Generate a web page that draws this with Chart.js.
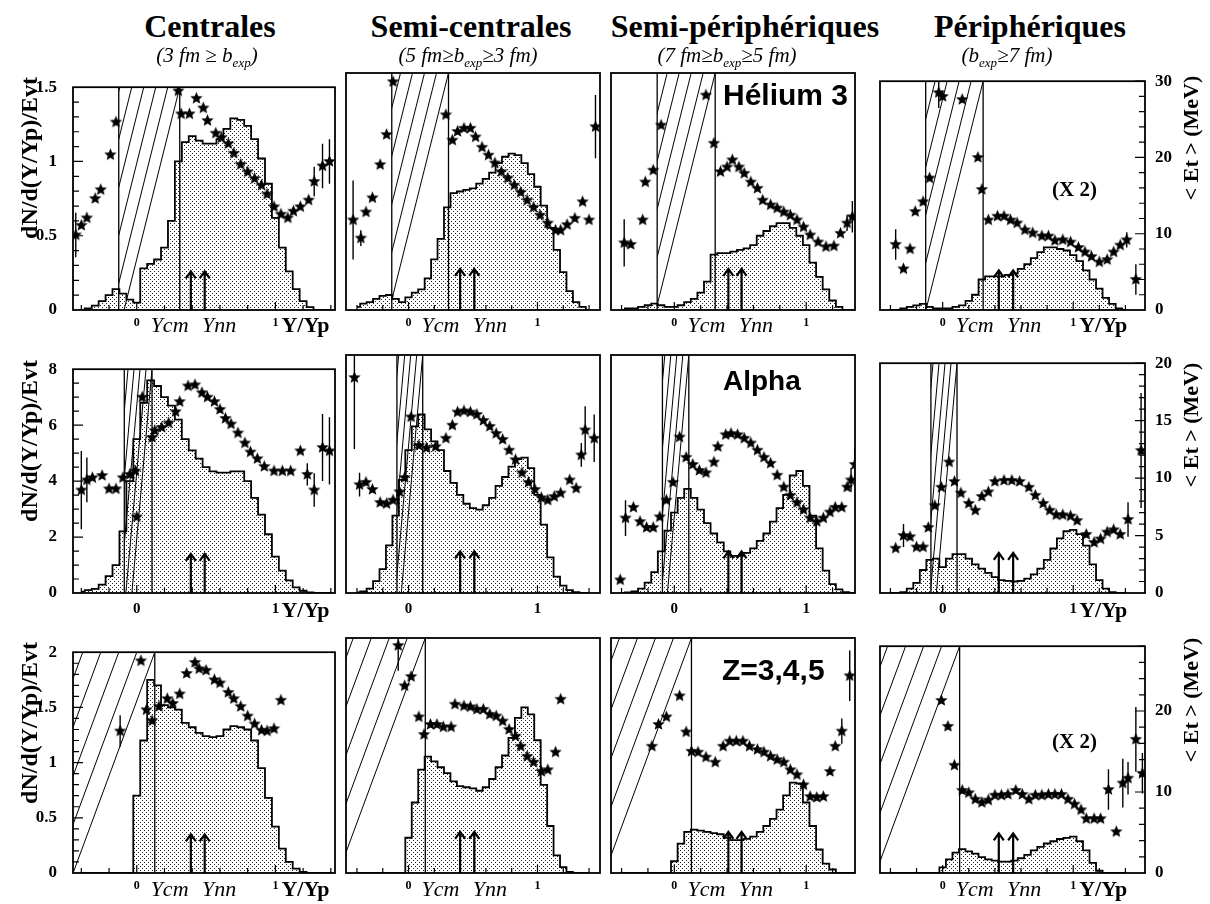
<!DOCTYPE html>
<html lang="fr">
<head>
<meta charset="utf-8">
<title>dN/d(Y/Yp) et &lt;Et&gt; par tranche de paramètre d'impact</title>
<script src="https://cdn.jsdelivr.net/npm/chart.js@4.4.1/dist/chart.umd.min.js"></script>
<style>
  html, body { margin: 0; padding: 0; background: #fff; }
  #fig { position: relative; width: 1210px; height: 904px; overflow: hidden;
         font-family: "Liberation Serif", "Times New Roman", serif; color: #000; }
  #fig canvas { position: absolute; }
  .txt { position: absolute; white-space: nowrap; line-height: 1; }
  .coltitle { font-weight: bold; font-size: 32px; width: 340px; text-align: center; }
  .colsub { font-style: italic; font-size: 21px; width: 340px; text-align: center; }
  .colsub sub { font-size: 13px; vertical-align: -5px; line-height: 0; }
  .species { font-family: "Liberation Sans", Arial, sans-serif; font-weight: bold; }
  .factor { font-weight: bold; font-size: 21px; }
  .rot { font-weight: bold; transform: translate(-50%, -50%) rotate(-90deg); }
  .ylab { font-size: 24px; }
  .etlab { font-size: 22px; }
  .xmid { font-style: italic; font-size: 22px; word-spacing: 8px; }
  .xend { font-weight: bold; font-size: 22px; }
</style>
</head>
<body>
<div id="fig"></div>
<script>
// rapidity grid (Y/Yp) shared by all histograms
const X_GRID = [-0.4, -0.35, -0.3, -0.25, -0.2, -0.15, -0.1, -0.05, 0, 0.05, 0.1, 0.15,
  0.2, 0.25, 0.3, 0.35, 0.4, 0.45, 0.5, 0.55, 0.6, 0.65, 0.7, 0.75, 0.8, 0.85, 0.9, 0.95,
  1, 1.05, 1.1, 1.15, 1.2, 1.25, 1.3, 1.35, 1.4];

// dN/d(Y/Yp)/Evt histograms
const HIST_HE3_C = [0, 0.01, 0.03, 0.06, 0.10, 0.14, 0.11, 0.07, 0.05, 0.28, 0.31, 0.34, 0.42, 0.60, 1.00, 1.13, 1.17, 1.14, 1.12, 1.12, 1.15, 1.22, 1.29, 1.28, 1.24, 1.15, 1.02, 0.85, 0.62, 0.42, 0.26, 0.14, 0.06, 0.02, 0, 0, 0];
const HIST_HE3_SC = [0.02, 0.04, 0.05, 0.07, 0.09, 0.095, 0.07, 0.05, 0.08, 0.11, 0.13, 0.20, 0.32, 0.45, 0.65, 0.74, 0.75, 0.76, 0.77, 0.80, 0.83, 0.87, 0.93, 0.97, 0.99, 0.98, 0.93, 0.86, 0.78, 0.66, 0.52, 0.38, 0.24, 0.12, 0.05, 0.02, 0];
const HIST_HE3_SP = [0, 0.01, 0.01, 0.02, 0.03, 0.04, 0.03, 0.02, 0.02, 0.03, 0.05, 0.07, 0.11, 0.18, 0.35, 0.36, 0.36, 0.37, 0.38, 0.39, 0.41, 0.47, 0.50, 0.53, 0.55, 0.55, 0.52, 0.47, 0.41, 0.30, 0.21, 0.13, 0.06, 0.02, 0, 0, 0];
const HIST_HE3_P = [0, 0, 0.01, 0.02, 0.03, 0.04, 0.02, 0.01, 0.01, 0.01, 0.02, 0.03, 0.06, 0.10, 0.20, 0.22, 0.22, 0.22, 0.23, 0.24, 0.27, 0.30, 0.34, 0.38, 0.41, 0.41, 0.40, 0.39, 0.36, 0.32, 0.26, 0.20, 0.14, 0.08, 0.04, 0.01, 0];
const HIST_ALPHA_C = [0.05, 0.10, 0.15, 0.30, 0.60, 1.00, 2.20, 4.00, 5.50, 6.80, 7.60, 7.40, 7.00, 6.70, 6.20, 5.50, 5.10, 4.80, 4.50, 4.35, 4.30, 4.30, 4.35, 4.35, 4.00, 3.40, 2.80, 2.10, 1.30, 0.80, 0.45, 0.20, 0.08, 0.02, 0, 0, 0];
const HIST_ALPHA_SC = [0.02, 0.05, 0.15, 0.40, 0.80, 1.60, 2.60, 3.80, 4.80, 5.60, 6.00, 5.50, 5.10, 4.80, 4.10, 3.70, 3.30, 3.00, 2.85, 2.80, 2.95, 3.20, 3.60, 3.90, 4.25, 4.50, 4.55, 4.20, 3.30, 2.30, 1.20, 0.55, 0.25, 0.10, 0.03, 0, 0];
const HIST_ALPHA_SP = [0, 0.02, 0.05, 0.15, 0.35, 0.70, 1.40, 2.10, 2.70, 3.20, 3.50, 3.20, 2.80, 2.35, 2.00, 1.70, 1.40, 1.25, 1.25, 1.35, 1.50, 1.75, 2.00, 2.40, 2.85, 3.30, 3.95, 4.10, 3.60, 2.60, 1.50, 0.75, 0.30, 0.12, 0.03, 0, 0];
const HIST_ALPHA_P = [0, 0, 0.03, 0.15, 0.35, 0.80, 1.15, 1.20, 0.90, 1.20, 1.35, 1.35, 1.20, 1.00, 0.85, 0.70, 0.55, 0.45, 0.42, 0.40, 0.42, 0.50, 0.65, 0.85, 1.15, 1.55, 1.90, 2.15, 2.20, 2.05, 1.65, 1.00, 0.45, 0.15, 0.03, 0, 0];
const HIST_Z345_C = [0, 0, 0, 0, 0, 0, 0, 0, 0.70, 1.20, 1.75, 1.70, 1.52, 1.50, 1.48, 1.36, 1.32, 1.27, 1.24, 1.23, 1.24, 1.30, 1.33, 1.32, 1.30, 1.20, 0.95, 0.68, 0.42, 0.22, 0.10, 0.04, 0.01, 0, 0, 0, 0];
const HIST_Z345_SC = [0, 0, 0, 0, 0, 0, 0, 0, 0.30, 0.60, 0.88, 0.99, 0.95, 0.90, 0.85, 0.78, 0.74, 0.73, 0.72, 0.70, 0.73, 0.80, 0.90, 1.00, 1.15, 1.32, 1.41, 1.35, 1.13, 0.75, 0.40, 0.15, 0.05, 0.01, 0, 0, 0];
const HIST_Z345_SP = [0, 0, 0, 0, 0, 0, 0, 0, 0.10, 0.25, 0.35, 0.37, 0.36, 0.35, 0.34, 0.33, 0.30, 0.28, 0.28, 0.29, 0.31, 0.35, 0.40, 0.46, 0.54, 0.66, 0.77, 0.76, 0.60, 0.40, 0.20, 0.08, 0.03, 0, 0, 0, 0];
const HIST_Z345_P = [0, 0, 0, 0, 0, 0, 0, 0, 0.05, 0.12, 0.18, 0.21, 0.19, 0.17, 0.14, 0.12, 0.11, 0.10, 0.10, 0.11, 0.13, 0.16, 0.20, 0.23, 0.26, 0.28, 0.30, 0.31, 0.32, 0.28, 0.20, 0.09, 0.02, 0, 0, 0, 0];

// <Et> (MeV) stars: [Y/Yp, Et, error]
const STARS_HE3_C = [[-0.44, 10.1, 3], [-0.40, 11.4, 0], [-0.36, 12.4, 0], [-0.30, 15.0, 0], [-0.26, 16.2, 0], [-0.19, 20.9, 0], [-0.15, 25.3, 0], [0.30, 29.5, 0], [0.32, 26.4, 0], [0.38, 26.4, 0], [0.43, 28.5, 0], [0.48, 27.2, 0], [0.51, 25.5, 0], [0.57, 23.8, 0], [0.61, 23.2, 0], [0.66, 22.4, 0], [0.70, 21.1, 0], [0.75, 19.6, 0], [0.80, 18.6, 0], [0.85, 17.7, 0], [0.90, 16.8, 0], [0.94, 15.6, 0], [0.99, 13.9, 0], [1.04, 12.9, 0], [1.09, 12.4, 0], [1.13, 13.3, 0], [1.18, 13.9, 0], [1.24, 14.8, 0], [1.28, 17.3, 2], [1.34, 19.4, 3], [1.39, 20.0, 3]];
const STARS_HE3_SC = [[-0.43, 11.4, 5], [-0.37, 9.1, 1], [-0.33, 12.4, 0], [-0.28, 14.2, 0], [-0.22, 18.4, 0], [-0.17, 22.2, 0], [-0.12, 28.9, 0], [0.29, 24.7, 0], [0.34, 21.5, 0], [0.38, 22.6, 0], [0.43, 23.0, 0], [0.48, 23.0, 0], [0.52, 21.9, 0], [0.57, 20.6, 0], [0.62, 19.6, 0], [0.67, 18.6, 0], [0.72, 17.5, 0], [0.77, 16.7, 0], [0.82, 15.8, 0], [0.87, 14.9, 0], [0.92, 13.9, 0], [0.97, 13.0, 0], [1.02, 12.0, 0], [1.08, 11.0, 0], [1.14, 10.1, 0], [1.18, 10.1, 0], [1.23, 10.8, 0], [1.29, 11.6, 0], [1.35, 13.7, 0], [1.40, 11.4, 0], [1.45, 23.2, 4]];
const STARS_HE3_SP = [[-0.38, 8.5, 3], [-0.33, 8.3, 0], [-0.24, 11.4, 0], [-0.22, 16.2, 0], [-0.16, 17.7, 0], [-0.10, 23.4, 0], [0.24, 27.2, 0], [0.30, 21.1, 0], [0.35, 17.5, 0], [0.40, 18.1, 0], [0.44, 19.0, 0], [0.49, 18.1, 0], [0.53, 17.3, 0], [0.58, 16.2, 0], [0.63, 15.4, 0], [0.67, 13.9, 0], [0.73, 13.3, 0], [0.78, 12.9, 0], [0.83, 12.4, 0], [0.88, 12.0, 0], [0.93, 11.4, 0], [0.98, 10.5, 0], [1.03, 9.5, 0], [1.09, 8.6, 0], [1.15, 8.0, 0], [1.21, 8.1, 0], [1.26, 9.7, 0], [1.31, 11.0, 1], [1.35, 11.8, 2]];
const STARS_HE3_P = [[-0.36, 8.6, 2], [-0.30, 5.4, 0], [-0.25, 8.0, 0], [-0.21, 12.9, 0], [-0.15, 14.2, 0], [-0.10, 17.3, 0], [-0.03, 28.5, 2], [0.00, 28.0, 0], [0.15, 27.6, 0], [0.27, 20.0, 0], [0.30, 15.8, 0], [0.35, 11.8, 0], [0.42, 12.3, 0], [0.47, 12.3, 0], [0.52, 11.8, 0], [0.57, 11.4, 0], [0.63, 10.5, 0], [0.69, 10.1, 0], [0.76, 9.7, 0], [0.81, 9.7, 0], [0.86, 9.1, 0], [0.92, 9.2, 0], [0.98, 8.9, 0], [1.04, 8.2, 0], [1.09, 7.6, 0], [1.14, 7.0, 0], [1.20, 6.3, 0], [1.26, 6.6, 0], [1.31, 7.6, 0], [1.36, 8.5, 0], [1.41, 9.2, 1], [1.48, 4.0, 2]];
const STARS_ALPHA_C = [[-0.40, 9.2, 3.5], [-0.36, 10.1, 2], [-0.32, 10.3, 0], [-0.25, 10.5, 0], [-0.20, 9.3, 0], [-0.15, 9.3, 0], [-0.10, 10.3, 0], [-0.05, 10.6, 0], [-0.01, 10.9, 0], [0.00, 6.8, 0], [0.04, 17.5, 0], [0.11, 13.9, 0], [0.13, 14.5, 0], [0.18, 14.8, 0], [0.23, 15.2, 0], [0.28, 16.2, 0], [0.31, 17.1, 0], [0.37, 18.5, 0], [0.42, 18.6, 0], [0.47, 17.9, 0], [0.51, 17.5, 0], [0.56, 17.1, 0], [0.60, 16.4, 0], [0.64, 15.6, 0], [0.68, 15.1, 0], [0.73, 14.3, 0], [0.78, 13.4, 0], [0.82, 12.6, 0], [0.87, 12.0, 0], [0.92, 11.3, 0], [0.99, 10.9, 0], [1.05, 10.9, 0], [1.11, 10.9, 0], [1.18, 12.7, 0], [1.23, 10.6, 1], [1.28, 9.2, 1.5], [1.34, 13.0, 3], [1.39, 12.7, 3]];
const STARS_ALPHA_SC = [[-0.42, 18.1, 6], [-0.38, 9.1, 1], [-0.33, 9.3, 0], [-0.28, 8.7, 0], [-0.22, 7.6, 0], [-0.17, 7.5, 0], [-0.12, 7.8, 0], [-0.07, 8.5, 0], [-0.03, 9.7, 0], [0.02, 14.8, 0], [0.08, 12.4, 0], [0.14, 12.2, 0], [0.21, 12.3, 0], [0.29, 13.0, 0], [0.34, 14.1, 0], [0.38, 15.2, 0], [0.43, 15.3, 0], [0.48, 15.2, 0], [0.53, 15.0, 0], [0.58, 14.5, 0], [0.63, 14.0, 0], [0.68, 13.4, 0], [0.73, 12.9, 0], [0.78, 12.0, 0], [0.83, 11.2, 0], [0.88, 10.1, 0], [0.93, 9.3, 0], [0.98, 8.7, 0], [1.03, 8.0, 0], [1.08, 7.8, 0], [1.13, 8.1, 0], [1.18, 8.4, 0], [1.25, 9.5, 0], [1.30, 8.8, 0], [1.34, 11.6, 1], [1.37, 13.7, 2], [1.44, 13.0, 2]];
const STARS_ALPHA_SP = [[-0.41, 1.1, 0], [-0.37, 6.3, 1.5], [-0.31, 7.2, 0], [-0.26, 6.0, 0], [-0.21, 5.5, 0], [-0.16, 5.5, 0], [-0.11, 6.4, 0], [-0.06, 7.8, 0], [-0.01, 9.3, 0], [0.04, 13.1, 0], [0.09, 11.4, 0], [0.14, 10.8, 0], [0.19, 10.3, 0], [0.24, 10.1, 0], [0.30, 11.0, 0], [0.33, 12.3, 0], [0.39, 13.3, 0], [0.43, 13.4, 0], [0.48, 13.3, 0], [0.53, 13.0, 0], [0.58, 12.6, 0], [0.63, 12.0, 0], [0.68, 11.4, 0], [0.73, 10.9, 0], [0.78, 9.9, 0], [0.83, 8.9, 0], [0.88, 8.2, 0], [0.93, 7.6, 0], [0.98, 7.0, 0], [1.03, 6.3, 0], [1.08, 6.0, 0], [1.13, 6.3, 0], [1.18, 6.8, 0], [1.22, 7.2, 0], [1.27, 7.2, 0], [1.31, 8.9, 0], [1.34, 9.5, 1], [1.37, 10.8, 1.5]];
const STARS_ALPHA_P = [[-0.36, 3.9, 0], [-0.30, 5.0, 1], [-0.25, 4.9, 0], [-0.20, 4.0, 0], [-0.15, 4.0, 0], [-0.11, 5.7, 0], [-0.06, 7.6, 0], [-0.01, 9.2, 0], [0.05, 11.4, 0], [0.09, 9.7, 0], [0.14, 8.7, 0], [0.20, 7.8, 0], [0.25, 7.2, 0], [0.30, 8.4, 0], [0.35, 8.8, 0], [0.40, 9.7, 0], [0.47, 9.8, 0], [0.53, 9.8, 0], [0.59, 9.7, 0], [0.66, 9.2, 0], [0.71, 8.5, 0], [0.77, 7.8, 0], [0.82, 7.2, 0], [0.87, 6.8, 0], [0.92, 6.8, 0], [0.98, 6.7, 0], [1.03, 6.3, 0], [1.10, 5.1, 0], [1.16, 4.4, 0], [1.21, 4.7, 0], [1.26, 5.3, 0], [1.31, 5.5, 0], [1.36, 5.1, 0], [1.42, 6.4, 1.5], [1.52, 12.4, 5]];
const STARS_Z345_C = [[-0.12, 18.0, 2], [0.03, 26.9, 0], [0.07, 20.7, 0], [0.11, 19.3, 0], [0.16, 21.1, 0], [0.22, 22.1, 0], [0.26, 21.5, 0], [0.31, 22.7, 0], [0.36, 25.3, 0], [0.42, 26.7, 0], [0.45, 25.9, 0], [0.50, 25.7, 0], [0.56, 24.5, 0], [0.60, 24.1, 0], [0.66, 22.9, 0], [0.70, 22.1, 0], [0.75, 21.1, 0], [0.80, 19.9, 0], [0.85, 18.9, 0], [0.90, 18.1, 0], [0.94, 18.0, 0], [0.99, 18.3, 0], [1.04, 21.9, 0]];
const STARS_Z345_SC = [[-0.08, 27.1, 3], [-0.03, 22.3, 0], [0.02, 23.4, 0], [0.08, 18.6, 0], [0.12, 16.5, 0], [0.17, 17.7, 0], [0.22, 17.7, 0], [0.27, 17.4, 0], [0.33, 17.4, 0], [0.36, 20.1, 0], [0.43, 19.9, 0], [0.48, 19.8, 0], [0.53, 19.5, 0], [0.58, 19.5, 0], [0.63, 18.9, 0], [0.68, 18.7, 0], [0.73, 18.1, 0], [0.78, 17.1, 0], [0.83, 16.3, 0], [0.87, 15.1, 0], [0.92, 13.9, 0], [0.97, 13.2, 0], [1.03, 12.1, 0], [1.08, 12.3, 0], [1.14, 14.4, 0], [1.18, 20.7, 0]];
const STARS_Z345_SP = [[-0.17, 15.1, 0], [-0.12, 17.7, 0], [-0.06, 18.6, 0], [0.04, 21.1, 0], [0.09, 16.8, 0], [0.13, 14.5, 0], [0.18, 14.4, 0], [0.24, 13.8, 0], [0.31, 13.2, 0], [0.37, 15.1, 0], [0.42, 15.7, 0], [0.47, 15.7, 0], [0.52, 15.7, 0], [0.57, 15.1, 0], [0.63, 14.7, 0], [0.68, 14.4, 0], [0.73, 13.9, 0], [0.78, 13.5, 0], [0.83, 13.2, 0], [0.88, 12.3, 0], [0.93, 11.7, 0], [0.98, 10.5, 0], [1.03, 9.1, 0], [1.08, 9.0, 0], [1.13, 9.1, 0], [1.18, 12.1, 0], [1.22, 15.1, 0], [1.27, 16.9, 1.5], [1.33, 23.5, 3]];
const STARS_Z345_P = [[-0.01, 21.3, 0], [0.04, 18.1, 0], [0.09, 13.3, 0], [0.15, 10.2, 0], [0.20, 9.9, 0], [0.25, 9.1, 0], [0.30, 8.7, 0], [0.35, 9.0, 0], [0.40, 9.6, 0], [0.45, 9.6, 0], [0.50, 9.7, 0], [0.56, 10.2, 0], [0.61, 9.7, 0], [0.66, 9.1, 0], [0.71, 9.6, 0], [0.76, 9.6, 0], [0.81, 9.7, 0], [0.86, 9.7, 0], [0.91, 9.7, 0], [0.96, 9.1, 0], [1.01, 8.5, 0], [1.06, 7.8, 0], [1.10, 6.7, 0], [1.16, 6.7, 0], [1.21, 6.7, 0], [1.27, 10.3, 2.5], [1.33, 5.1, 0], [1.38, 11.1, 3], [1.42, 11.7, 2], [1.48, 16.5, 4], [1.53, 12.3, 2.5]];

// labels and axes
const COL_TITLES = ["Centrales", "Semi-centrales", "Semi-périphériques", "Périphériques"];
const COL_SUBTITLES = ["(3 fm ≥ b<sub>exp</sub>)", "(5 fm≥b<sub>exp</sub>≥3 fm)", "(7 fm≥b<sub>exp</sub>≥5 fm)", "(b<sub>exp</sub>≥7 fm)"];
const SPECIES = ["Hélium 3", "Alpha", "Z=3,4,5"];
const FACTOR = ["(X 2)", "", "(X 2)"];
const Y_MAX = [1.5, 8, 2];
const Y_TICKS = [[0, 0.5, 1, 1.5], [0, 2, 4, 6, 8], [0, 0.5, 1, 1.5, 2]];
const Y_MINOR = [0.1, 0.5, 0.1];
const ET_MAX = [30, 20, 28];
const ET_TICKS = [[0, 10, 20, 30], [0, 5, 10, 15, 20], [0, 10, 20]];
const ET_MINOR = [2, 1, 2];
const X_TICKS = [0, 1];
const X_MID_LABEL = ["Ycm Ynn", "", "Ycm Ynn"];
const X_END_LABEL = ["Y/Yp", "", "", "Y/Yp"];
const Y_CM = [0.39, 0.40, 0.41, 0.43];
const Y_NN = [0.49, 0.51, 0.51, 0.54];
const ARROW_TOP = [0.26, 1.4, 0.35];
const HATCH_LEFT = [-0.13, -0.09, null];
const HATCH_RIGHT = [0.31, 0.11, 0.13];

const HISTS = [
  [HIST_HE3_C, HIST_HE3_SC, HIST_HE3_SP, HIST_HE3_P],
  [HIST_ALPHA_C, HIST_ALPHA_SC, HIST_ALPHA_SP, HIST_ALPHA_P],
  [HIST_Z345_C, HIST_Z345_SC, HIST_Z345_SP, HIST_Z345_P],
];
const STARS = [
  [STARS_HE3_C, STARS_HE3_SC, STARS_HE3_SP, STARS_HE3_P],
  [STARS_ALPHA_C, STARS_ALPHA_SC, STARS_ALPHA_SP, STARS_ALPHA_P],
  [STARS_Z345_C, STARS_Z345_SC, STARS_Z345_SP, STARS_Z345_P],
];

// layout (pixels) and per-column rapidity range
const COL_LEFT = [73, 343, 608, 877];
const COL_RIGHT = [338, 603, 858, 1145];
const ROW_TOP = [73, 355, 638];
const ROW_BOTTOM = [310, 593, 873];
const X_MIN = [-0.46, -0.485, -0.48, -0.48];
const X_MAX = [1.43, 1.485, 1.37, 1.55];
const HATCH_SLANT = [0.25, 0.09, 0.37];
const HATCH_GAP = [12, 6, 18];
const TICK_FONT = [12, 15, 12];
const XLABEL_TOP = [314, 599, 878];

const SERIF = '"Liberation Serif", "Times New Roman", serif';
const fig = document.getElementById("fig");

function addText(cls, html, left, top, extra) {
  const d = document.createElement("div");
  d.className = "txt " + cls;
  d.innerHTML = html;
  d.style.left = left + "px";
  d.style.top = top + "px";
  if (extra) Object.assign(d.style, extra);
  fig.appendChild(d);
  return d;
}

function makeStar(r) {
  const s = document.createElement("canvas");
  const size = Math.ceil(r * 2 + 2);
  s.width = s.height = size;
  const g = s.getContext("2d");
  g.fillStyle = "#000";
  g.beginPath();
  for (let i = 0; i < 10; i++) {
    const rad = i % 2 ? r * 0.45 : r;
    const a = -Math.PI / 2 + (i * Math.PI) / 5;
    g.lineTo(size / 2 + rad * Math.cos(a), size / 2 + rad * Math.sin(a));
  }
  g.closePath();
  g.fill();
  return s;
}
const STAR_IMG = makeStar(6.5);

function dotPattern(ctx) {
  const t = document.createElement("canvas");
  t.width = t.height = 4;
  const g = t.getContext("2d");
  g.fillStyle = "#fff";
  g.fillRect(0, 0, 4, 4);
  g.fillStyle = "#222";
  g.fillRect(0, 0, 1, 1);
  g.fillRect(2, 2, 1, 1);
  return ctx.createPattern(t, "repeat");
}

// hatched acceptance band, Ycm/Ynn arrows, error bars, frame + inner ticks
const decor = {
  id: "decor",
  afterDatasetDraw(chart, args, o) {
    if (args.index !== 0) return;
    const { ctx, chartArea: a, scales } = chart;
    const x = scales.x, y = scales.y;
    const xl = HATCH_LEFT[o.row] === null ? a.left : x.getPixelForValue(HATCH_LEFT[o.row]);
    const xr = x.getPixelForValue(HATCH_RIGHT[o.row]);
    const h = a.bottom - a.top;
    const dx = HATCH_SLANT[o.row] * h;
    ctx.save();
    ctx.beginPath();
    ctx.rect(xl, a.top, xr - xl, h);
    ctx.clip();
    ctx.strokeStyle = "#000";
    ctx.lineWidth = 1;
    ctx.beginPath();
    for (let s = xr; s > xl - dx; s -= HATCH_GAP[o.row]) {
      ctx.moveTo(s - dx, a.bottom);
      ctx.lineTo(s, a.top);
    }
    ctx.stroke();
    ctx.restore();

    ctx.save();
    ctx.strokeStyle = "#000";
    ctx.lineWidth = 1.3;
    ctx.beginPath();
    if (HATCH_LEFT[o.row] !== null) {
      ctx.moveTo(xl, a.top);
      ctx.lineTo(xl, a.bottom);
    }
    ctx.moveTo(xr, a.top);
    ctx.lineTo(xr, a.bottom);
    ctx.stroke();

    // Ycm / Ynn arrows
    ctx.lineWidth = 2.2;
    const yb = y.getPixelForValue(0);
    const yt = y.getPixelForValue(ARROW_TOP[o.row]);
    [Y_CM[o.col], Y_NN[o.col]].forEach((v) => {
      const px = x.getPixelForValue(v);
      ctx.beginPath();
      ctx.moveTo(px, yb);
      ctx.lineTo(px, yt);
      ctx.moveTo(px - 5, yt + 7);
      ctx.lineTo(px, yt);
      ctx.lineTo(px + 5, yt + 7);
      ctx.stroke();
    });
    ctx.restore();
  },
  afterDatasetsDraw(chart, args, o) {
    const { ctx, chartArea: a, scales } = chart;
    const x = scales.x, y2 = scales.y2;
    ctx.save();
    ctx.beginPath();
    ctx.rect(a.left, a.top, a.right - a.left, a.bottom - a.top);
    ctx.clip();
    ctx.strokeStyle = "#000";
    ctx.lineWidth = 1.4;
    ctx.beginPath();
    STARS[o.row][o.col].forEach(([sx, sy, e]) => {
      if (!e) return;
      const px = x.getPixelForValue(sx);
      ctx.moveTo(px, y2.getPixelForValue(sy - e));
      ctx.lineTo(px, y2.getPixelForValue(sy + e));
    });
    ctx.stroke();
    ctx.restore();
  },
  afterDraw(chart, args, o) {
    const { ctx, chartArea: a, scales } = chart;
    const x = scales.x, y = scales.y, y2 = scales.y2;
    ctx.save();
    ctx.strokeStyle = "#000";
    ctx.lineWidth = 1.2;
    ctx.beginPath();
    for (let k = Math.ceil(X_MIN[o.col] * 5); k <= Math.floor(X_MAX[o.col] * 5); k++) {
      const px = x.getPixelForValue(k / 5);
      const len = k % 5 === 0 ? 8 : 5;
      ctx.moveTo(px, a.bottom);
      ctx.lineTo(px, a.bottom - len);
    }
    if (o.col === 0) {
      const n = Math.round(Y_MAX[o.row] / Y_MINOR[o.row]);
      for (let k = 1; k < n; k++) {
        const v = k * Y_MINOR[o.row];
        const major = Y_TICKS[o.row].some((t) => Math.abs(t - v) < 1e-6);
        const py = y.getPixelForValue(v);
        ctx.moveTo(a.left, py);
        ctx.lineTo(a.left + (major ? 10 : 6), py);
      }
    }
    if (o.col === 3) {
      const n = Math.floor(ET_MAX[o.row] / ET_MINOR[o.row]);
      for (let k = 1; k <= n; k++) {
        const v = k * ET_MINOR[o.row];
        const major = ET_TICKS[o.row].some((t) => Math.abs(t - v) < 1e-6);
        const py = y2.getPixelForValue(v);
        ctx.moveTo(a.right, py);
        ctx.lineTo(a.right - (major ? 10 : 6), py);
      }
    }
    ctx.stroke();
    ctx.lineWidth = 1.8;
    ctx.strokeRect(a.left, a.top, a.right - a.left, a.bottom - a.top);
    ctx.restore();
  },
};

function makePanel(r, c) {
  const axisL = c === 0 ? 45 : 0;
  const axisR = c === 3 ? 45 : 0;
  const pad = 4, padT = 12, axisB = 34;
  const w = COL_RIGHT[c] - COL_LEFT[c];
  const h = ROW_BOTTOM[r] - ROW_TOP[r];
  const cv = document.createElement("canvas");
  cv.width = pad + axisL + w + axisR + pad;
  cv.height = padT + h + axisB;
  const left = COL_LEFT[c] - axisL - pad;
  const top = ROW_TOP[r] - padT;
  cv.style.left = left + "px";
  cv.style.top = top + "px";
  fig.appendChild(cv);
  const ctx = cv.getContext("2d");

  const tickFont = { family: SERIF, weight: "bold", size: 17 };
  const chart = new Chart(ctx, {
    type: "line",
    data: {
      datasets: [
        {
          data: X_GRID.map((v, i) => ({ x: v, y: HISTS[r][c][i] })),
          yAxisID: "y",
          stepped: "middle",
          fill: "origin",
          backgroundColor: dotPattern(ctx),
          borderColor: "#000",
          borderWidth: 1.8,
          pointRadius: 0,
          order: 2,
        },
        {
          type: "scatter",
          data: STARS[r][c].map(([sx, sy]) => ({ x: sx, y: sy })),
          yAxisID: "y2",
          pointStyle: STAR_IMG,
          pointRadius: 6,
          order: 1,
        },
      ],
    },
    options: {
      responsive: false,
      animation: false,
      devicePixelRatio: 1,
      events: [],
      layout: { padding: { left: pad, right: pad, top: padT, bottom: 0 } },
      plugins: {
        legend: { display: false },
        tooltip: { enabled: false },
        decor: { row: r, col: c },
      },
      scales: {
        x: {
          type: "linear",
          min: X_MIN[c],
          max: X_MAX[c],
          afterBuildTicks: (s) => { s.ticks = X_TICKS.map((v) => ({ value: v })); },
          afterFit: (s) => { s.height = axisB; },
          grid: { display: false, drawTicks: false },
          border: { display: false },
          ticks: {
            autoSkip: false, maxRotation: 0, padding: r === 1 ? 7 : 6, color: "#000",
            font: { family: SERIF, weight: "bold", size: TICK_FONT[r] },
            callback: (v) => String(v),
          },
        },
        y: {
          type: "linear",
          position: "left",
          display: c === 0,
          min: 0,
          max: Y_MAX[r],
          afterBuildTicks: (s) => { s.ticks = Y_TICKS[r].map((v) => ({ value: v })); },
          afterFit: (s) => { s.width = axisL; },
          grid: { display: false, drawTicks: false },
          border: { display: false },
          ticks: { padding: 16, color: "#000", font: tickFont, callback: (v) => String(v) },
        },
        y2: {
          type: "linear",
          position: "right",
          display: c === 3,
          min: 0,
          max: ET_MAX[r],
          afterBuildTicks: (s) => { s.ticks = ET_TICKS[r].map((v) => ({ value: v })); },
          afterFit: (s) => { s.width = axisR; },
          grid: { display: false, drawTicks: false },
          border: { display: false },
          ticks: { padding: 10, color: "#000", font: tickFont, callback: (v) => String(v) },
        },
      },
    },
    plugins: [decor],
  });

  // x-axis words placed through the chart's own scale
  const xs = chart.scales.x;
  if (X_MID_LABEL[r]) {
    addText("xmid", X_MID_LABEL[r], left + xs.getPixelForValue(0.1), XLABEL_TOP[r]);
  }
  if (X_END_LABEL[c]) {
    addText("xend", X_END_LABEL[c], left + xs.getPixelForValue(1) + 6, XLABEL_TOP[r]);
  }
  return chart;
}

for (let r = 0; r < 3; r++) {
  for (let c = 0; c < 4; c++) makePanel(r, c);
}

// column titles
const TITLE_CENTER = [210, 471, 745, 1030];
const SUB_CENTER = [207, 468, 727, 1007];
COL_TITLES.forEach((t, c) => addText("coltitle", t, TITLE_CENTER[c] - 170, 10));
COL_SUBTITLES.forEach((t, c) => addText("colsub", t, SUB_CENTER[c] - 170, 45));

// species and scale factors
const SPECIES_POS = [[723, 80, 30], [723, 367, 28], [722, 655, 30]];
SPECIES.forEach((t, r) => {
  const [l, tp, fs] = SPECIES_POS[r];
  addText("species", t, l, tp, { fontSize: fs + "px" });
});
const FACTOR_TOP = [179, 0, 731];
FACTOR.forEach((t, r) => { if (t) addText("factor", t, 1052, FACTOR_TOP[r]); });

// rotated axis titles
const YT_CENTER = [158, 441, 723];
const ET_CENTER = [138, 425, 700];
YT_CENTER.forEach((cy) => addText("rot ylab", "dN/d(Y/Yp)/Evt", 29, cy));
ET_CENTER.forEach((cy) => addText("rot etlab", "&lt; Et &gt; (MeV)", 1191, cy));
</script>
</body>
</html>
